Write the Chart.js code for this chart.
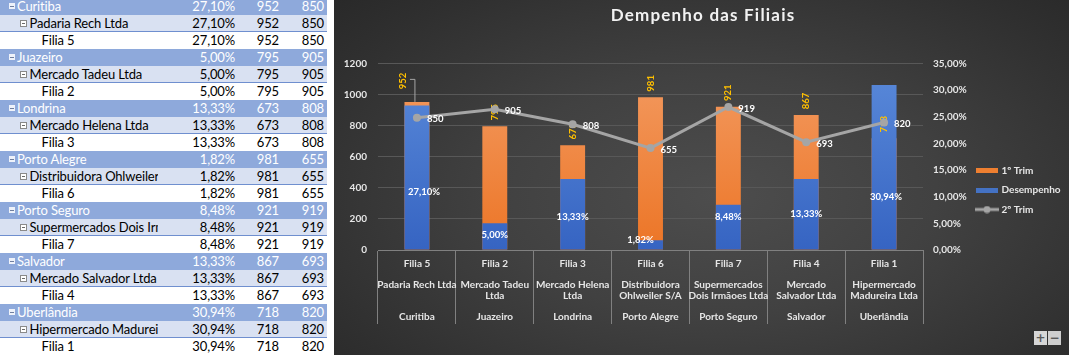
<!DOCTYPE html>
<html>
<head>
<meta charset="utf-8">
<script src="https://cdn.jsdelivr.net/npm/chart.js@4.4.1/dist/chart.umd.min.js"></script>
<style>
  html, body { margin: 0; padding: 0; background: #ffffff; width: 1069px; height: 355px; overflow: hidden; }
  #tbl { position: absolute; left: 0; top: -1.6px; width: 327px; font-family: Lato, "Open Sans", sans-serif; font-size: 13px; letter-spacing: -0.15px; }
  .row { position: relative; height: 17px; line-height: 17px; box-sizing: border-box; white-space: nowrap; }
  .row.city { background: #8EA9DB; color: #ffffff; }
  .row.comp { background: #D9E1F2; color: #000000; border-bottom: 1px solid #6F8FCF; line-height: 16px; }
  .row.fil { background: #ffffff; color: #000000; }
  .cell { position: absolute; top: 0; }
  .lab { left: 0; width: 158px; overflow: hidden; }
  .n1 { right: 92px; }
  .n2 { right: 48px; }
  .n3 { right: 3px; }
  .ico { position: absolute; top: 5px; }
  .ico::after { content: ''; position: absolute; height: 1px; }
  .city .ico { left: 9px; width: 6px; height: 6px; background: #eef2fa; }
  .city .ico::after { left: 1px; width: 4px; top: 2.5px; background: #6f7f9f; }
  .comp .ico { left: 20px; width: 5px; height: 5px; border: 1px solid #8a8a8a; background: #ffffff; }
  .comp .ico::after { left: 1px; width: 3px; top: 2px; background: #6a6a6a; }
  #wrap { position: absolute; left: 334px; top: 0; width: 735px; height: 355px;
          background: radial-gradient(ellipse 75% 85% at 52% 55%, #4d4d4d 0%, #414141 40%, #2f2f2f 80%, #272727 100%); }
  #c { position: absolute; left: 0; top: 0; }
  .btn { position: absolute; top: 331px; width: 13px; height: 14px; background: #d6d6d6; color: #5a5a5a;
         font: bold 12px/14px "DejaVu Sans", sans-serif; text-align: center; }
</style>
</head>
<body>
<div id="tbl"></div>
<div id="wrap">
  <canvas id="c" width="735" height="355"></canvas>
  <div class="btn" style="left:700px;">+</div>
  <div class="btn" style="left:714px;background:#cfcfcf;">−</div>
</div>
<script>
// ---------------- data ----------------
const filiais = ['Filia 5', 'Filia 2', 'Filia 3', 'Filia 6', 'Filia 7', 'Filia 4', 'Filia 1'];
const companyLines = [
  ['Padaria Rech Ltda'],
  ['Mercado Tadeu', 'Ltda'],
  ['Mercado Helena', 'Ltda'],
  ['Distribuidora', 'Ohlweiler S/A'],
  ['Supermercados', 'Dois Irmãoes Ltda'],
  ['Mercado', 'Salvador Ltda'],
  ['Hipermercado', 'Madureira Ltda']
];
const cities = ['Curitiba', 'Juazeiro', 'Londrina', 'Porto Alegre', 'Porto Seguro', 'Salvador', 'Uberlândia'];
const desempenho = [27.10, 5.00, 13.33, 1.82, 8.48, 13.33, 30.94];
const trim1 = [952, 795, 673, 981, 921, 867, 718];
const trim2 = [850, 905, 808, 655, 919, 693, 820];
const seriesNames = ['1º Trim', 'Desempenho', '2º Trim'];
const chartTitle = 'Dempenho das Filiais';
const leftMax = 1200, leftStep = 200;
const rightMax = 35, rightStep = 5;

// label nudges (px) – styling only
const trim1LabelNudge = [[-14, -7], [0, 0], [0, 0], [0, 0], [0, 0], [0, 0], [0, 0]];
const descLabelNudge = [[7, 14], [0, -1], [0, 3], [-10, -5], [0, -10], [0, 0], [2, 30]];

const fmtPct = v => v.toFixed(2).replace('.', ',') + '%';
const companies = companyLines.map(l => l.join(' '));

// ---------------- table ----------------
(function buildTable() {
  const t = document.getElementById('tbl');
  let html = '';
  const row = (cls, label, i) =>
    `<div class="row ${cls}">` + (cls !== 'fil' ? '<span class="ico"></span>' : '') +
    `<span class="cell lab" style="padding-left:${cls === 'city' ? 17 : cls === 'comp' ? 29.5 : 41.5}px;box-sizing:border-box">${label}</span>` +
    `<span class="cell n1">${fmtPct(desempenho[i])}</span>` +
    `<span class="cell n2">${trim1[i]}</span>` +
    `<span class="cell n3">${trim2[i]}</span></div>`;
  cities.forEach((c, i) => {
    html += row('city', c, i);
    html += row('comp', companies[i], i);
    html += row('fil', filiais[i], i);
  });
  t.innerHTML = html;
})();

// ---------------- chart ----------------
Chart.defaults.font.family = 'Lato';

function makeIcon(kind) {
  const cv = document.createElement('canvas');
  if (kind === 'line') {
    cv.width = 24; cv.height = 8;
    const g = cv.getContext('2d');
    g.strokeStyle = '#A5A5A5'; g.lineWidth = 3;
    g.beginPath(); g.moveTo(0, 4); g.lineTo(24, 4); g.stroke();
    g.fillStyle = '#A5A5A5'; g.beginPath(); g.arc(12, 4, 3.5, 0, Math.PI * 2); g.fill();
  } else {
    cv.width = 22; cv.height = 5;
    const g = cv.getContext('2d');
    g.fillStyle = kind; g.fillRect(0, 0, 22, 5);
  }
  return cv;
}
const legendIcons = [makeIcon('#EE7F30'), makeIcon('#4472C4'), makeIcon('line')];

function vGrad(top, bottom) {
  return (c) => {
    const a = c.chart.chartArea;
    if (!a) return bottom;
    const g = c.chart.ctx.createLinearGradient(0, a.top, 0, a.bottom);
    g.addColorStop(0, top); g.addColorStop(1, bottom);
    return g;
  };
}

const labelPlugin = {
  id: 'valueLabels',
  afterDatasetDraw(chart, args) {
    if (chart.data.datasets[args.index].label !== seriesNames[1]) return;
    const c = chart.ctx;
    c.save();
    c.font = 'bold 9.5px Lato';
    c.textAlign = 'center';
    c.textBaseline = 'middle';
    // 1º Trim labels (rotated, gold)
    const m1 = chart.getDatasetMeta(0);
    const d1 = chart.data.datasets[0].data;
    m1.data.forEach((bar, i) => {
      const [dx, dy] = trim1LabelNudge[i];
      const x = bar.x + dx, y = bar.y - 14 + dy;
      if (dx || dy) {
        c.strokeStyle = '#A6A6A6'; c.lineWidth = 1;
        c.beginPath();
        c.moveTo(x + 7, y - 1.5); c.lineTo(bar.x - 2, y - 1.5); c.lineTo(bar.x - 2, bar.y);
        c.stroke();
      }
      c.save();
      c.translate(x, y); c.rotate(-Math.PI / 2);
      c.fillStyle = '#FFC000';
      c.fillText(String(d1[i]), 0, 0);
      c.restore();
    });
    // Desempenho labels (white, inside)
    const d2 = chart.data.datasets[args.index].data;
    c.fillStyle = '#FFFFFF';
    args.meta.data.forEach((bar, i) => {
      const [dx, dy] = descLabelNudge[i];
      c.fillText(fmtPct(d2[i]), bar.x + dx, (bar.y + bar.base) / 2 + dy);
    });
    c.restore();
  },
  afterDatasetsDraw(chart) {
    const c = chart.ctx;
    const m = chart.getDatasetMeta(2);
    const d = chart.data.datasets[2].data;
    c.save();
    c.font = 'bold 9.5px Lato';
    c.textAlign = 'left';
    c.textBaseline = 'middle';
    c.fillStyle = '#FFFFFF';
    m.data.forEach((pt, i) => c.fillText(String(d[i]), pt.x + 10, pt.y + 1.5));
    c.restore();
  }
};

const titleSpacing = {
  id: 'titleSpacing',
  beforeDraw(chart) {
    const tb = chart.titleBlock;
    if (tb && !tb.__sp) {
      const orig = tb.draw;
      tb.draw = function () {
        const c = this.ctx; c.save(); c.letterSpacing = '1.2px';
        orig.apply(this, arguments); c.restore();
      };
      tb.__sp = true;
    }
  }
};

const tickFont = { family: 'Lato', size: 10, weight: 'bold' };

new Chart(document.getElementById('c').getContext('2d'), {
  type: 'bar',
  data: {
    labels: filiais.map((f, i) => [f, '', companyLines[i][0], companyLines[i][1] || '', '', cities[i]]),
    datasets: [
      { label: seriesNames[0], data: trim1, yAxisID: 'y', order: 3, grouped: false,
        barPercentage: 0.32, categoryPercentage: 1, backgroundColor: vGrad('#F39B62', '#EC7526') },
      { label: seriesNames[1], data: desempenho, yAxisID: 'y2', order: 2, grouped: false,
        barPercentage: 0.32, categoryPercentage: 1, backgroundColor: vGrad('#5A8ADA', '#3664C2') },
      { type: 'line', label: seriesNames[2], data: trim2, yAxisID: 'y', order: 1,
        borderColor: '#A5A5A5', backgroundColor: '#A5A5A5', borderWidth: 3, tension: 0,
        pointRadius: 4, pointBackgroundColor: '#A5A5A5', pointBorderWidth: 0 }
    ]
  },
  options: {
    responsive: false, animation: false, events: [], devicePixelRatio: 1,
    layout: { padding: { left: 10, right: 7, top: 0, bottom: 0 } },
    plugins: {
      title: { display: true, text: chartTitle, color: '#F2F2F2',
               font: { family: 'Lato', size: 17, weight: 'bold' }, padding: { top: 5, bottom: 37.9 } },
      legend: {
        position: 'right', align: 'center', reverse: true, maxWidth: 94,
        title: { display: true, text: ' ', padding: { top: 13, bottom: 0 }, font: { size: 10 } },
        labels: {
          usePointStyle: true, pointStyleWidth: 19, boxHeight: 5, padding: 9.5,
          color: '#E6E6E6', font: { family: 'Lato', size: 10, weight: 'bold' },
          generateLabels(chart) {
            const items = Chart.defaults.plugins.legend.labels.generateLabels(chart);
            items.forEach(it => { it.pointStyle = legendIcons[it.datasetIndex]; it.lineWidth = 0; });
            return items;
          }
        }
      },
      tooltip: { enabled: false }
    },
    scales: {
      x: {
        offset: true,
        grid: { offset: true, display: true, drawOnChartArea: false, drawTicks: true, tickLength: 74, color: '#808080' },
        border: { display: true, color: '#808080' },
        ticks: { autoSkip: false, maxRotation: 0, minRotation: 0, padding: -65.3, color: '#E6E6E6',
                 font: { family: 'Lato', size: 10, weight: 'bold', lineHeight: '10.6px' } },
        afterFit(s) { s.height = 105; }
      },
      y: {
        position: 'left', min: 0, max: leftMax,
        ticks: { stepSize: leftStep, padding: 11, color: '#E6E6E6', font: tickFont, callback: v => String(v) },
        grid: { color: c => (c.tick && c.tick.value === 0) ? 'rgba(0,0,0,0)' : '#585858', drawTicks: false },
        border: { display: false },
        afterFit(s) { s.width = 34; }
      },
      y2: {
        position: 'right', min: 0, max: rightMax,
        ticks: { stepSize: rightStep, padding: 10, color: '#E6E6E6', font: tickFont, callback: v => fmtPct(v) },
        grid: { drawOnChartArea: false, drawTicks: false },
        border: { display: false },
        afterFit(s) { s.width = 45; }
      }
    }
  },
  plugins: [labelPlugin, titleSpacing]
});
</script>
</body>
</html>
